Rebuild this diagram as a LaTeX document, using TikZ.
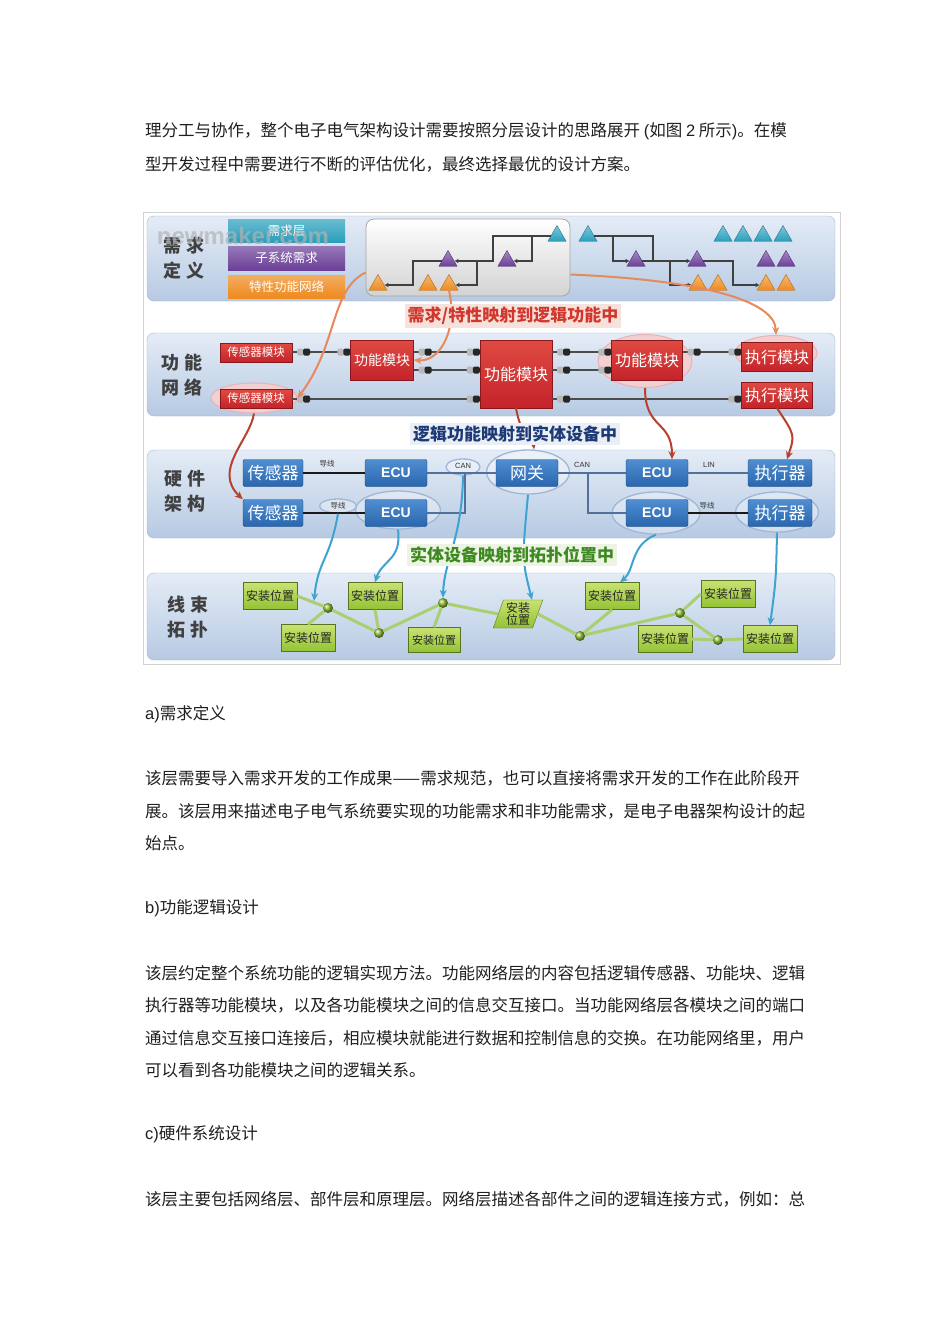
\documentclass[tikz,border=0pt]{standalone}
\usepackage{fontspec}
\setmainfont{Noto Sans CJK SC}
\newfontfamily\latinfont{Liberation Sans}
\usetikzlibrary{arrows.meta,shapes.geometric}

\definecolor{bandtop}{HTML}{E4ECF6}
\definecolor{bandbot}{HTML}{B7CAE3}
\definecolor{bandline}{HTML}{A3B8D3}
\definecolor{reqteal}{HTML}{2A9FBC}
\definecolor{reqpurple}{HTML}{6B3F98}
\definecolor{reqorange}{HTML}{EE8A1E}
\definecolor{fnred}{HTML}{C4232A}
\definecolor{fnredtop}{HTML}{E04A42}
\definecolor{hwblue}{HTML}{2A66AE}
\definecolor{hwbluetop}{HTML}{4F8ED0}
\definecolor{topogreen}{HTML}{93C234}
\definecolor{topogreentop}{HTML}{C9E272}
\definecolor{topoline}{HTML}{AACF70}
\definecolor{maporange}{HTML}{E8895A}
\definecolor{mapred}{HTML}{B6412D}
\definecolor{mapblue}{HTML}{3EA3D0}
\definecolor{selline}{HTML}{9FB7D8}

\newcommand\fsz[1]{\fontsize{#1}{#1}\selectfont}

\begin{document}
\begin{tikzpicture}[x=1pt,y=-1pt,
 bodyline/.style={anchor=west,inner sep=0pt,font=\fsz{16.5},text=black!88},
 band/.style={rounded corners=7pt,top color=bandtop,bottom color=bandbot,draw=bandline},
 layerlabel/.style={align=center,font=\fontsize{18}{25}\selectfont\bfseries,text=black!75},
 maplabel/.style={inner sep=3pt,font=\fsz{17}\bfseries},
 reqbar/.style={minimum width=117pt,inner sep=0pt,top color=#1!70!white,bottom color=#1,text=white,font=\fsz{12.5}},
 tri/.style={regular polygon,regular polygon sides=3,minimum size=21pt,inner sep=0pt,top color=#1!60!white,bottom color=#1,draw=#1!75!black},
 flow/.style={draw=black!75,line width=1.3pt,-{Latex[length=4pt,width=4.5pt]}},
 fnbox/.style={rectangle,inner sep=1pt,top color=fnredtop,bottom color=fnred,draw=fnred!70!black,text=white},
 fnsel/.style={ellipse,draw=fnred!35,line width=1pt,fill=fnred!22},
 fnwire/.style={draw=black!70,line width=1.2pt},
 plugout/.pic={\fill[gray!55,rounded corners=1.5pt] (5,-3.5) rectangle (12,3.5);
   \fill[black!85,rounded corners=1.5pt] (11,-3.5) rectangle (18,3.5);},
 plugin/.pic={\fill[gray!55,rounded corners=1.5pt] (-13,-3.5) rectangle (-6,3.5);
   \fill[black!85,rounded corners=1.5pt] (-7,-3.5) rectangle (0,3.5);},
 hwbox/.style={rectangle,rounded corners=2pt,minimum width=62pt,minimum height=27pt,inner sep=0pt,
   top color=hwbluetop,bottom color=hwblue,draw=hwblue!70!black,text=white,font=\fsz{17}},
 ecu/.style={hwbox,font=\latinfont\bfseries\fsz{14}},
 hwsel/.style={ellipse,draw=selline,line width=1.3pt,fill=white,fill opacity=.35},
 hwwire/.style={draw=black!90,line width=1.6pt},
 buswire/.style={draw=hwblue!55!gray,line width=1.2pt},
 buslabel/.style={inner sep=0pt,font=\fsz{7.5},text=black!80},
 topobox/.style={rectangle,minimum width=54pt,minimum height=27pt,inner sep=0pt,
   top color=topogreentop,bottom color=topogreen,draw=topogreen!60!black,text=black!85,font=\fsz{12}},
 topodot/.style={circle,minimum size=10pt,inner sep=0pt,ball color=topogreen},
 topowire/.style={draw=topoline,line width=3pt},
 maparr/.style={draw=#1,line width=2pt,-{Stealth[length=8pt,width=7pt]}}]
\useasboundingbox (0,0) rectangle (950,1344);
\fill[white] (0,0) rectangle (950,1344);

% text above the figure
\node[bodyline] (p1) at (145,131) {理分工与协作，整个电子电气架构设计需要按照分层设计的思路展开 {\latinfont(}如图 {\latinfont 2} 所示{\latinfont)}。在模};
\node[bodyline] (p2) at (145,164) {型开发过程中需要进行不断的评估优化，最终选择最优的设计方案。};

% figure frame and layers
\draw[gray!35,fill=white] (143,212) rectangle (840,664);
\draw[band] (147,216) rectangle (835,301);
\draw[band] (147,333) rectangle (835,416);
\draw[band] (147,450) rectangle (835,538);
\draw[band] (147,573) rectangle (835,660);
\node[layerlabel] (lreq) at (184,258) {需\hspace{5pt}求\\定\hspace{5pt}义};
\node[layerlabel] (lfn) at (182,375) {功\hspace{5pt}能\\网\hspace{5pt}络};
\node[layerlabel] (lhw) at (185,491) {硬\hspace{5pt}件\\架\hspace{5pt}构};
\node[layerlabel] (ltopo) at (188,617) {线\hspace{5pt}束\\拓\hspace{5pt}扑};

% requirement layer
\node[reqbar=reqteal,minimum height=23pt] (rb1) at (286.5,230.5) {需求层};
\node[reqbar=reqpurple,minimum height=24pt] (rb2) at (286.5,258) {子系统需求};
\node[reqbar=reqorange,minimum height=23pt] (rb3) at (286.5,286.5) {特性功能网络};
\node[text=gray!60,opacity=.7,font=\latinfont\bfseries\fsz{24}] (wm) at (243,236) {newmaker.com};
\node[rounded corners=8pt,minimum width=204pt,minimum height=77pt,top color=white,bottom color=gray!35,draw=gray!70,thick] (gbox) at (468,257.5) {};
\node[tri=reqteal] (gt) at (557,236) {};
\node[tri=reqpurple] (gp1) at (448,261) {};
\node[tri=reqpurple] (gp2) at (507,261) {};
\node[tri=reqorange] (go1) at (378,285) {};
\node[tri=reqorange] (go2) at (428,285) {};
\node[tri=reqorange] (go3) at (449,285) {};
\draw[flow] (gt.west) -| (493,250) |- (gp1.east);
\draw[flow] (532,0 |- gt.west) |- (gp2.east);
\draw[flow] (477,0 |- gp1.east) |- (go3.east);
\draw[flow] (gp1.west) -- (413,0 |- gp1.west) |- (go1.east);
\node[tri=reqteal] (rt1) at (588,236) {};
\node[tri=reqteal] (rt2) at (723,236) {};
\node[tri=reqteal] (rt3) at (743,236) {};
\node[tri=reqteal] (rt4) at (763,236) {};
\node[tri=reqteal] (rt5) at (783,236) {};
\node[tri=reqpurple] (rp1) at (636,261) {};
\node[tri=reqpurple] (rp2) at (697,261) {};
\node[tri=reqpurple] (rp3) at (766,261) {};
\node[tri=reqpurple] (rp4) at (786,261) {};
\node[tri=reqorange] (ro1) at (698,285) {};
\node[tri=reqorange] (ro2) at (718,285) {};
\node[tri=reqorange] (ro3) at (766,285) {};
\node[tri=reqorange] (ro4) at (786,285) {};
\draw[flow] (rt1.east) -- (653,0 |- rt1.east) |- (rp2.west);
\draw[flow] (613,0 |- rt1.east) |- (rp1.west);
\draw[flow] (rp1.east) -- (670,0 |- rp1.east) |- (ro1.west);
\draw[flow] (rp2.east) -- (733,0 |- rp2.east) |- (ro3.west);

% function network layer
\node[fnsel,minimum width=86pt,minimum height=30pt] (fs2sel) at (254,398) {};
\node[fnsel,minimum width=94pt,minimum height=53pt] (ff3sel) at (645,361) {};
\node[fnsel,minimum width=82pt,minimum height=35pt] (fe1sel) at (776,353) {};
\node[fnbox,minimum width=72pt,minimum height=19pt,font=\fsz{11.5}] (fs1) at (256,352.5) {传感器模块};
\node[fnbox,minimum width=72pt,minimum height=19pt,font=\fsz{11.5}] (fs2) at (256,398.5) {传感器模块};
\node[fnbox,minimum width=63pt,minimum height=40pt,font=\fsz{14}] (ff1) at (382,360) {功能模块};
\node[fnbox,minimum width=72pt,minimum height=68pt,font=\fsz{16}] (ff2) at (516,374) {功能模块};
\node[fnbox,minimum width=71pt,minimum height=40pt,font=\fsz{16}] (ff3) at (647,360) {功能模块};
\node[fnbox,minimum width=71pt,minimum height=29pt,font=\fsz{16}] (fe1) at (777,357) {执行模块};
\node[fnbox,minimum width=71pt,minimum height=26pt,font=\fsz{16}] (fe2) at (777,395) {执行模块};
\foreach \a/\b/\y in {fs1/ff1/352,ff1/ff2/352,ff1/ff2/370,ff2/ff3/352,ff2/ff3/370,ff3/fe1/352,fs2/ff2/399,ff2/fe2/399}{
  \draw[fnwire] (\a.east |- 0,\y) -- (\b.west |- 0,\y);
  \pic at (\a.east |- 0,\y) {plugout};
  \pic at (\b.west |- 0,\y) {plugin};
}

% hardware layer
\node[hwsel,minimum width=85pt,minimum height=38pt] (he2sel) at (398,510) {};
\node[hwsel,minimum width=83pt,minimum height=44pt] (hgsel) at (528,472) {};
\node[hwsel,minimum width=88pt,minimum height=42pt] (he4sel) at (656,513) {};
\node[hwsel,minimum width=83pt,minimum height=40pt] (ha2sel) at (777,512) {};
\node[hwsel,minimum width=37pt,minimum height=14pt] (w2sel) at (338,506) {};
\node[hwsel,minimum width=34pt,minimum height=16pt] (cansel) at (463,467) {};
\node[hwbox,minimum width=60pt] (hs1) at (273,473) {传感器};
\node[hwbox,minimum width=60pt] (hs2) at (273,513) {传感器};
\node[ecu] (he1) at (396,473) {ECU};
\node[ecu] (he2) at (396,513) {ECU};
\node[hwbox] (hg) at (527,473) {网关};
\node[ecu] (he3) at (657,473) {ECU};
\node[ecu] (he4) at (657,513) {ECU};
\node[hwbox,minimum width=64pt] (ha1) at (780,473) {执行器};
\node[hwbox,minimum width=64pt] (ha2) at (780,513) {执行器};
\coordinate (canL) at (465,473);
\coordinate (canR) at (588,473);
\draw[hwwire] (hs1) -- (he1);
\draw[hwwire] (hs2) -- (he2);
\draw[buswire] (he1) -- (hg);
\draw[buswire] (hg) -- (he3);
\draw[buswire] (he3) -- (ha1);
\draw[buswire] (he2.east) -| (canL);
\draw[buswire] (canR) |- (he4.west);
\draw[hwwire] (he4) -- (ha2);
\node[buslabel] (w1) at (327,464) {导线};
\node[buslabel] (w2) at (338,506) {导线};
\node[buslabel,font=\latinfont\fsz{7.5}] (can1) at (463,466) {CAN};
\node[buslabel,font=\latinfont\fsz{7.5}] (can2) at (582,465) {CAN};
\node[buslabel,font=\latinfont\fsz{7.5}] (lin) at (709,465) {LIN};
\node[buslabel] (w3) at (707,506) {导线};

% harness topology layer
\node[topodot] (td1) at (328,608) {};
\node[topodot] (td2) at (379,633) {};
\node[topodot] (td3) at (443,603) {};
\node[topodot] (td4) at (580,636) {};
\node[topodot] (td5) at (680,613) {};
\node[topodot] (td6) at (718,640) {};
\node[topobox] (tb1) at (270,596) {安装位置};
\node[topobox] (tb2) at (375,596) {安装位置};
\node[topobox] (tb3) at (308,638) {安装位置};
\node[topobox,minimum width=52pt,minimum height=25pt,font=\fsz{11}] (tb4) at (434,640) {安装位置};
\node[trapezium,trapezium left angle=70,trapezium right angle=110,minimum width=40pt,minimum height=28pt,inner sep=0pt,
  top color=topogreentop,bottom color=topogreen,draw=topogreen!60!black,text=black!85,align=center,
  font=\fontsize{12}{12}\selectfont] (tbp) at (518,614) {安装\\位置};
\node[topobox] (tb5) at (612,596) {安装位置};
\node[topobox] (tb6) at (728,594) {安装位置};
\node[topobox] (tb7) at (665,639) {安装位置};
\node[topobox] (tb8) at (770,639) {安装位置};
\draw[topowire] (tb1.east) -- (td1);
\draw[topowire] (td1) -- (tb3.north);
\draw[topowire] (td1) -- (td2);
\draw[topowire] (tb2.south) -- (td2);
\draw[topowire] (td2) -- (td3);
\draw[topowire] (td3) -- (tb4.north);
\draw[topowire] (td3) -- (tbp.west);
\draw[topowire] (tbp.east) -- (td4);
\draw[topowire] (td4) -- (tb5.south);
\draw[topowire] (td4) -- (td5);
\draw[topowire] (td5) -- (tb6.west);
\draw[topowire] (td5) -- (td6);
\draw[topowire] (tb7.east) -- (td6);
\draw[topowire] (td6) -- (tb8.west);

% mapping arrows between the layers
\draw[maparr=maporange] ([yshift=-15pt]gbox.west) .. controls (330,290) and (338,345) .. (fs2sel.east);
\draw[maparr=maporange] (go3.south) .. controls (458,330) and (440,362) .. (ff1.east);
\draw[maparr=maporange] ([yshift=-17pt]gbox.east) .. controls (700,280) and (775,300) .. (fe1sel.north);
\draw[maparr=mapred] (fs2sel.south) .. controls (250,440) and (212,470) .. (hs2.north west);
\draw[maparr=mapred] (ff2.south) .. controls (522,440) and (533,440) .. ([xshift=6pt]hgsel.north);
\draw[maparr=mapred] (ff3sel.south) .. controls (645,430) and (672,420) .. ([xshift=15pt]he3.north);
\draw[maparr=mapred] (fe2.south) .. controls (795,435) .. ([xshift=7pt]ha1.north);
\draw[maparr=mapblue] (w2sel.south) .. controls (330,560) and (318,560) .. ([xshift=-14pt,yshift=7pt]td1.center);
\draw[maparr=mapblue] (he2sel.south) .. controls (402,560) and (382,560) .. (tb2.north);
\draw[maparr=mapblue] (cansel.south) .. controls (462,540) and (444,560) .. (td3.north);
\draw[maparr=mapblue] (hgsel.south) .. controls (522,560) .. ([xshift=14pt]tbp.north);
\draw[maparr=mapblue] (he4sel.south) .. controls (630,545) and (635,570) .. ([xshift=8pt]tb5.north);
\draw[maparr=mapblue] (ha2sel.south) .. controls (776,580) .. (tb8.north);

% mapping captions lie over the arrows
\node[maplabel,fill={rgb,255:red,246;green,226;blue,218},text={rgb,255:red,210;green,55;blue,45}] (lab1) at (513,316) {需求/特性映射到逻辑功能中};
\node[maplabel,fill={rgb,255:red,234;green,239;blue,245},text={rgb,255:red,30;green,58;blue,118}] (lab2) at (515,434) {逻辑功能映射到实体设备中};
\node[maplabel,fill={rgb,255:red,238;green,244;blue,228},text={rgb,255:red,62;green,138;blue,34}] (lab3) at (512,555) {实体设备映射到拓扑位置中};

% text below the figure
\node[bodyline] (ha) at (145,714) {{\latinfont a)}需求定义};
\node[bodyline] (a1) at (145,778) {该层需要导入需求开发的工作成果——需求规范，也可以直接将需求开发的工作在此阶段开};
\node[bodyline] (a2) at (145,811) {展。该层用来描述电子电气系统要实现的功能需求和非功能需求，是电子电器架构设计的起};
\node[bodyline] (a3) at (145,843) {始点。};
\node[bodyline] (hb) at (145,908) {{\latinfont b)}功能逻辑设计};
\node[bodyline] (b1) at (145,973) {该层约定整个系统功能的逻辑实现方法。功能网络层的内容包括逻辑传感器、功能块、逻辑};
\node[bodyline] (b2) at (145,1005) {执行器等功能模块，以及各功能模块之间的信息交互接口。当功能网络层各模块之间的端口};
\node[bodyline] (b3) at (145,1038) {通过信息交互接口连接后，相应模块就能进行数据和控制信息的交换。在功能网络里，用户};
\node[bodyline] (b4) at (145,1070) {可以看到各功能模块之间的逻辑关系。};
\node[bodyline] (hc) at (145,1134) {{\latinfont c)}硬件系统设计};
\node[bodyline] (c1) at (145,1199) {该层主要包括网络层、部件层和原理层。网络层描述各部件之间的逻辑连接方式，例如：总};
\end{tikzpicture}
\end{document}
